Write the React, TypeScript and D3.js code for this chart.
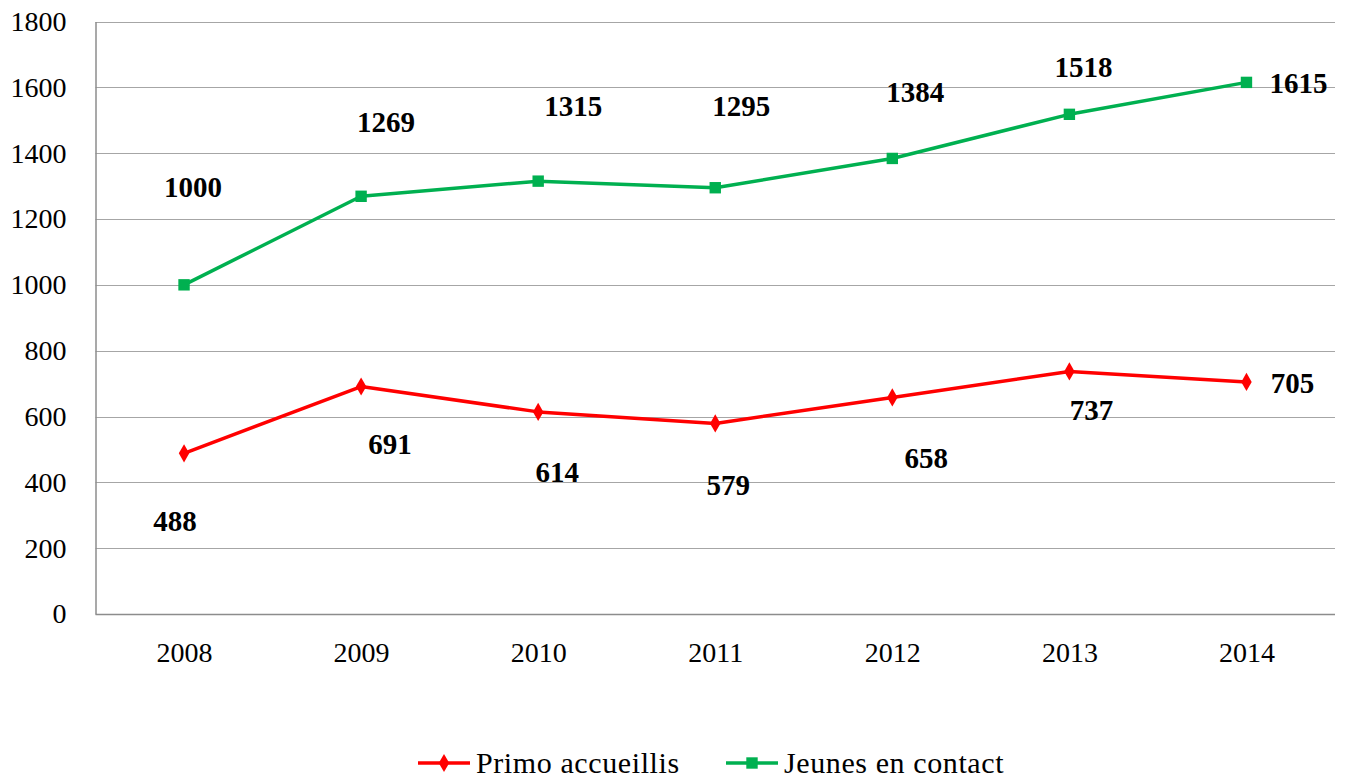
import React, { useEffect, useRef } from "react";
import * as d3 from "d3";

const years = ["2008", "2009", "2010", "2011", "2012", "2013", "2014"];
const primoAccueillis = [488, 691, 614, 579, 658, 737, 705];
const jeunesEnContact = [1000, 1269, 1315, 1295, 1384, 1518, 1615];
const yTicks = [0, 200, 400, 600, 800, 1000, 1200, 1400, 1600, 1800];
const seriesNames = ["Primo accueillis", "Jeunes en contact"];

// label nudges (pixels from the point), placed by hand like in the original
const redLabelShift = [[-9, 67], [29, 57], [19, 60], [13, 61], [34, 60], [22, 38], [46, 1]];
const greenLabelShift = [[9, -98], [25, -74], [35, -75], [26, -82], [23, -67], [14, -47], [52, 0]];

const FONT = "'Liberation Serif', 'DejaVu Serif', serif";
const RED = "#ff0000";
const GREEN = "#00b050";

export default function App() {
  const ref = useRef<SVGSVGElement>(null);

  useEffect(() => {
    const width = 1349;
    const height = 780;
    const margin = { top: 21.5, right: 14, bottom: 166, left: 95.5 };

    const svg = d3.select(ref.current);
    svg.selectAll("*").remove();

    const x = d3
      .scalePoint<string>()
      .domain(years)
      .range([margin.left, width - margin.right])
      .padding(0.5);

    const y = d3
      .scaleLinear()
      .domain([0, 1800])
      .range([height - margin.bottom, margin.top]);

    // gridlines
    svg
      .append("g")
      .selectAll("line")
      .data(yTicks.filter((t) => t > 0))
      .enter()
      .append("line")
      .attr("x1", margin.left)
      .attr("x2", width - margin.right)
      .attr("y1", (d) => Math.round(y(d)) + 0.5)
      .attr("y2", (d) => Math.round(y(d)) + 0.5)
      .attr("stroke", "#a6a6a6")
      .attr("stroke-width", 1.2);

    // y axis
    const yAxis = svg
      .append("g")
      .attr("transform", `translate(${margin.left},0)`)
      .call(
        d3.axisLeft(y).tickValues(yTicks).tickFormat(d3.format("d")).tickSize(0).tickPadding(29)
      );
    yAxis.select(".domain").attr("stroke", "#8c8c8c").attr("stroke-width", 1.5);
    yAxis
      .selectAll("text")
      .style("font-family", FONT)
      .style("font-size", "28px")
      .attr("fill", "#000");

    // x axis
    const xAxis = svg
      .append("g")
      .attr("transform", `translate(0,${height - margin.bottom})`)
      .call(d3.axisBottom(x).tickSize(0).tickPadding(28));
    xAxis
      .select(".domain")
      .attr("d", `M${margin.left},0.5H${width - margin.right}`)
      .attr("stroke", "#8c8c8c")
      .attr("stroke-width", 1.5);
    xAxis
      .selectAll("text")
      .style("font-family", FONT)
      .style("font-size", "28px")
      .attr("fill", "#000");

    const line = d3
      .line<number>()
      .x((_, i) => x(years[i]) as number)
      .y((d) => y(d));

    const square = d3.symbol().type(d3.symbolSquare).size(130);
    const diamond = d3.symbol().type(d3.symbolDiamond).size(95);

    const series = [
      { values: primoAccueillis, color: RED, marker: diamond, shift: redLabelShift },
      { values: jeunesEnContact, color: GREEN, marker: square, shift: greenLabelShift },
    ];

    series.forEach((s) => {
      svg
        .append("path")
        .datum(s.values)
        .attr("d", line)
        .attr("fill", "none")
        .attr("stroke", s.color)
        .attr("stroke-width", 3.5)
        .attr("stroke-linejoin", "round");

      svg
        .append("g")
        .selectAll("path")
        .data(s.values)
        .enter()
        .append("path")
        .attr("d", s.marker() as string)
        .attr("transform", (d, i) => `translate(${x(years[i])},${y(d)})`)
        .attr("fill", s.color);

      svg
        .append("g")
        .selectAll("text")
        .data(s.values)
        .enter()
        .append("text")
        .attr("x", (d, i) => (x(years[i]) as number) + s.shift[i][0])
        .attr("y", (d, i) => y(d) + s.shift[i][1])
        .attr("dy", "0.35em")
        .attr("text-anchor", "middle")
        .style("font-family", FONT)
        .style("font-size", "29px")
        .style("font-weight", "bold")
        .attr("fill", "#000")
        .text((d) => d);
    });

    // legend
    const legendX = [418, 726];
    const legendY = 763;
    const legend = svg
      .append("g")
      .selectAll("g")
      .data(series)
      .enter()
      .append("g")
      .attr("transform", (d, i) => `translate(${legendX[i]},${legendY})`);
    legend
      .append("line")
      .attr("x1", 0)
      .attr("x2", 52)
      .attr("stroke", (d) => d.color)
      .attr("stroke-width", 3.5);
    legend
      .append("path")
      .attr("d", (d) => d.marker() as string)
      .attr("transform", "translate(26,0)")
      .attr("fill", (d) => d.color);
    legend
      .append("text")
      .attr("x", 58)
      .attr("dy", "0.32em")
      .style("font-family", FONT)
      .style("font-size", "30px")
      .style("letter-spacing", "0.6px")
      .attr("fill", "#000")
      .text((d, i) => seriesNames[i]);
  }, []);

  return (
    <svg
      ref={ref}
      width={1349}
      height={780}
      style={{ position: "absolute", left: 0, top: 0, background: "#fff" }}
    />
  );
}
